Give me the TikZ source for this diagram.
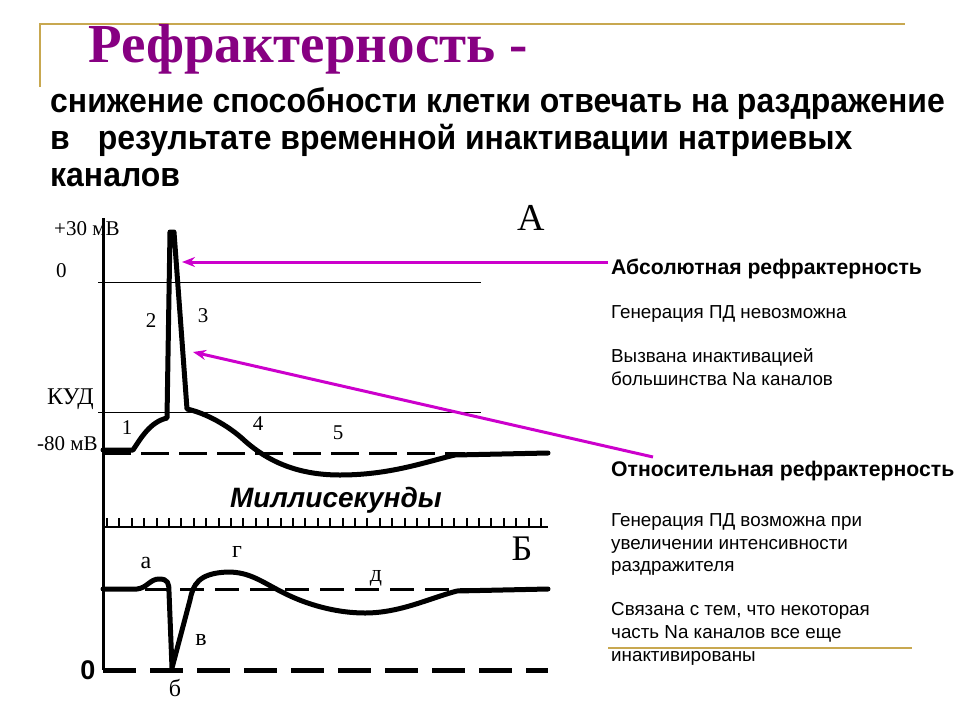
\documentclass[tikz,border=0pt]{standalone}
\usepackage{fontspec}
\setmainfont{Liberation Serif}
\newfontfamily\arial{Liberation Sans}
\newfontfamily\narrow[FakeStretch=0.94]{Liberation Sans}
\usetikzlibrary{arrows.meta}
\definecolor{gold}{RGB}{200,168,80}
\definecolor{titlepurple}{RGB}{135,0,130}
\definecolor{mag}{RGB}{204,0,204}
\tikzset{
  txt/.style={inner sep=0pt, anchor=base west},
  rtxt/.style={txt, font=\arial\fontsize{18.8}{22}\selectfont},
  rhead/.style={txt, font=\arial\bfseries\fontsize{21.2}{22}\selectfont},
  glab/.style={inner sep=0pt, font=\fontsize{21}{22}\selectfont},
  curve/.style={line width=5pt, line join=round, line cap=round},
  thin/.style={line width=1pt},
  magarrow/.style={draw=mag, line width=3pt, -{Stealth[length=13pt,width=10pt]}},
}
\begin{document}
\begin{tikzpicture}[x=1pt,y=-1pt]
\useasboundingbox (0,0) rectangle (960,720);
% gold frame lines
\draw[gold, line width=2pt] (40,87) -- (40,24) -- (905,24);
\draw[gold, line width=2pt] (608,648) -- (912,648);
% title
\node[txt, text=titlepurple, font=\bfseries\fontsize{55}{58}\selectfont] (title) at (88,62) {Рефрактерность -};
% subtitle
\node[txt, font=\narrow\bfseries\fontsize{34}{37}\selectfont] (l1) at (50,112) {снижение способности клетки отвечать на раздражение};
\node[txt, font=\narrow\bfseries\fontsize{34}{37}\selectfont] (l2) at (50,149) {в\hspace{28pt}результате временной инактивации натриевых};
\node[txt, font=\narrow\bfseries\fontsize{34}{37}\selectfont] (l3) at (50,186) {каналов};
% axis
\draw[line width=3pt] (103,218) -- (103,670);
% thin lines
\draw[thin] (98,282) -- (481,282);
\draw[thin] (98,412) -- (481,412);
% axis labels
\node[glab, anchor=base west] (p30) at (54,235) {+30 мВ};
\node[glab, anchor=base west] (zero) at (56,277) {0};
\node[glab, anchor=base west, font=\fontsize{24}{26}\selectfont] (kud) at (47,404) {КУД};
\node[glab, anchor=base west] (m80) at (37,450) {-80 мВ};
% numbers
\node[glab] (n1) at (127,428) {1};
\node[glab] (n2) at (151,321) {2};
\node[glab] (n3) at (203,316) {3};
\node[glab] (n4) at (258,424) {4};
\node[glab] (n5) at (338,433) {5};
\node[glab, font=\fontsize{38}{40}\selectfont] (A) at (531,218) {А};
% dashed baseline top
\draw[line width=3pt, dash pattern=on 28pt off 10pt] (103,453) -- (465,453);
% AP curve
\draw[curve] (103,450) -- (133,450) .. controls (141,438) and (150,422) .. (167,418)
  -- (170,232) -- (174,232) -- (187,409) .. controls (205,413) and (228,425) .. (245,441)
  .. controls (270,463) and (300,475) .. (340,475) .. controls (390,475) and (425,462) .. (455,455)
  -- (548,453);
% Milliseconds
\node[inner sep=0pt, font=\arial\bfseries\itshape\fontsize{28}{30}\selectfont] (ms) at (336,500) {Миллисекунды};
% ruler
\draw[line width=2pt] (103,527) -- (548,527);
\foreach \i in {0,...,35} {
  \draw[line width=2pt] ({107+12.4*\i},518) -- ({107+12.4*\i},527);
}
\node[glab, font=\fontsize{36}{40}\selectfont] (B) at (522,549) {Б};
% lower dashed lines
\draw[line width=3pt, dash pattern=on 24pt off 11pt] (145,589) -- (548,589);
\draw[line width=5pt, dash pattern=on 33pt off 14pt] (103,670) -- (548,670);
% lower curve
\draw[curve] (103,589) -- (137,589) .. controls (147,588) and (150,579) .. (159,579)
  .. controls (168,579) and (169,583) .. (169,592) -- (172,668) -- (190,600)
  .. controls (193,585) and (198,573) .. (228,572) .. controls (250,572) and (262,582) .. (282,592)
  .. controls (305,604) and (335,613) .. (365,613) .. controls (400,613) and (430,598) .. (457,591)
  -- (548,589);
% lower labels
\node[glab, font=\fontsize{24}{26}\selectfont] (la) at (146,563) {а};
\node[glab, font=\fontsize{24}{26}\selectfont] (lg) at (237,552) {г};
\node[glab, font=\fontsize{24}{26}\selectfont] (ld) at (376,578) {д};
\node[glab, font=\fontsize{24}{26}\selectfont] (lv) at (201,640) {в};
\node[glab, font=\fontsize{24}{26}\selectfont] (lb) at (175,688) {б};
\node[inner sep=0pt, font=\arial\bfseries\fontsize{27}{30}\selectfont] (z0) at (88,670) {0};
% right texts
\node[rhead] (abs) at (611,274) {Абсолютная рефрактерность};
\node[rtxt] (abs1) at (611,318) {Генерация ПД невозможна};
\node[rtxt] (abs2) at (611,362) {Вызвана инактивацией};
\node[rtxt] (abs3) at (611,385) {большинства Na каналов};
\node[rhead] (rel) at (611,476) {Относительная рефрактерность};
\node[rtxt] (rel1) at (611,526) {Генерация ПД возможна при};
\node[rtxt] (rel2) at (611,549) {увеличении интенсивности};
\node[rtxt] (rel3) at (611,571) {раздражителя};
\node[rtxt] (rel4) at (611,615) {Связана с тем, что некоторая};
\node[rtxt] (rel5) at (611,638) {часть Na каналов все еще};
\node[rtxt] (rel6) at (611,661) {инактивированы};
% arrows
\coordinate (t1) at (182,262);
\coordinate (t2) at (193,352);
\draw[magarrow] (abs.west |- 0,262) ++(-3,0) -- (t1);
\draw[magarrow] (653,457) -- (t2);
\end{tikzpicture}
\end{document}
